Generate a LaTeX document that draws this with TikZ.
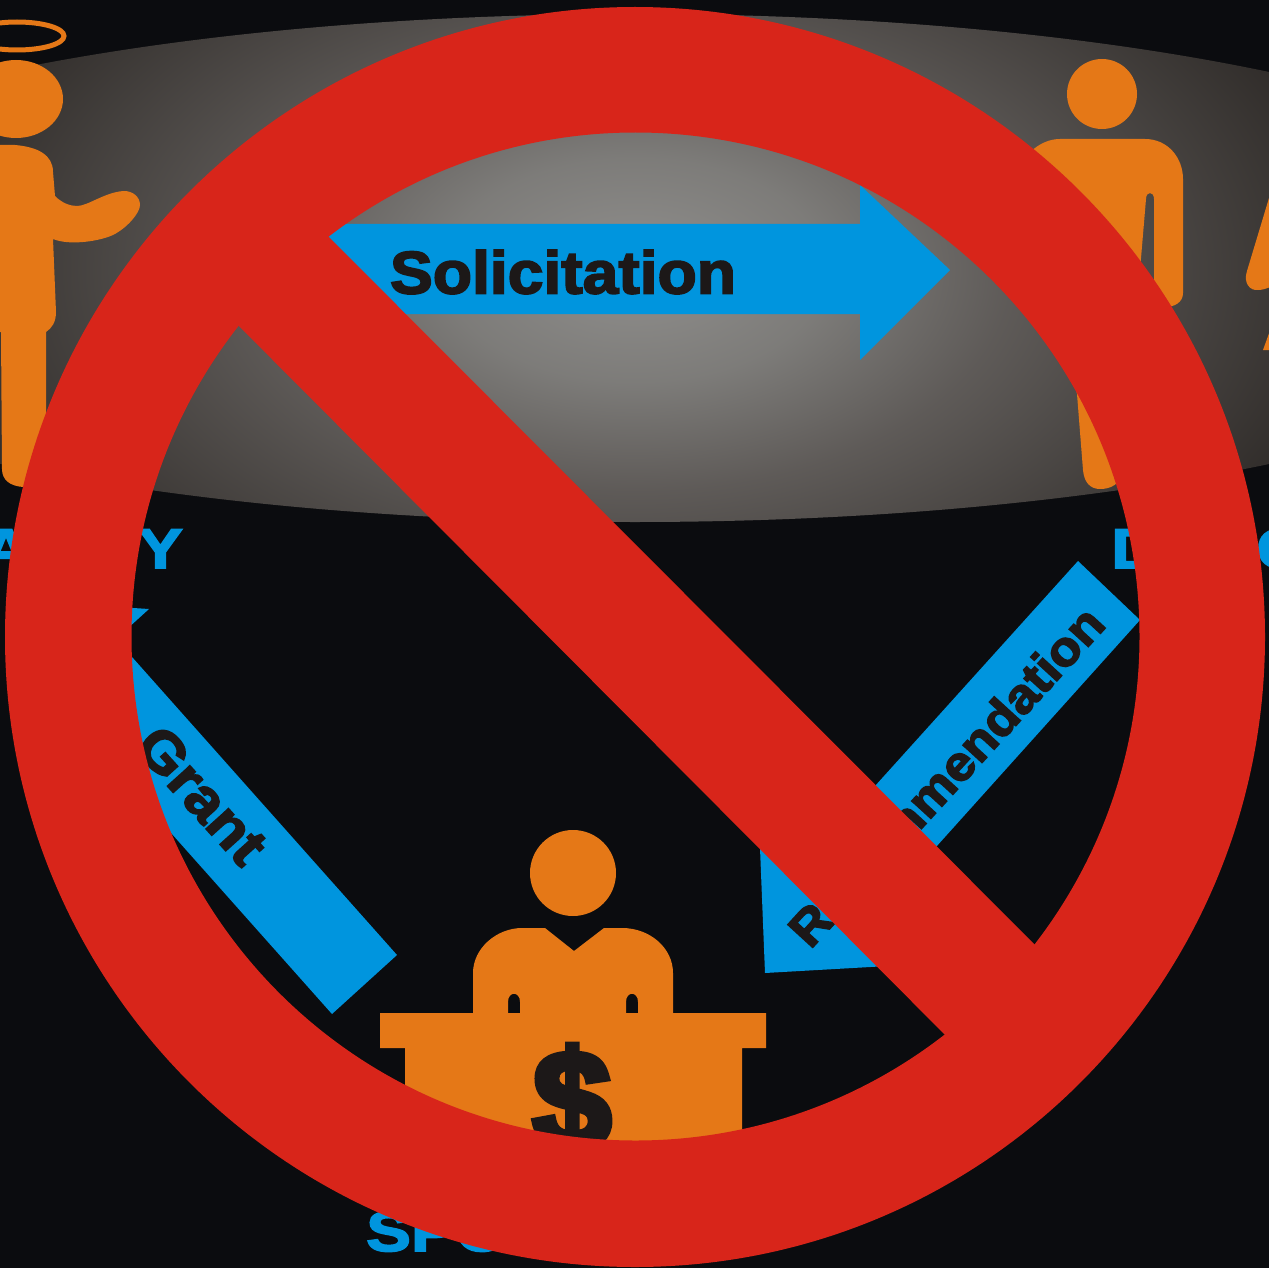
\documentclass[tikz,border=0pt]{standalone}
\usepackage{fontspec}
\newfontfamily\hv[FakeStretch=1.2,FakeBold=3]{Liberation Sans Bold}
\newfontfamily\hw[FakeStretch=1.07,FakeBold=3]{Liberation Sans Bold}
\newfontfamily\hvs[FakeBold=5]{Liberation Sans Bold}
\definecolor{bgk}{HTML}{0B0C0F}
\definecolor{org}{HTML}{E57817}
\definecolor{blu}{HTML}{0095DE}
\definecolor{rd}{HTML}{D8251A}
\definecolor{ink}{HTML}{1C1818}
\pgfdeclareradialshading{spot}{\pgfpoint{0bp}{0bp}}{%
 rgb(0bp)=(.565,.561,.553);
 rgb(7bp)=(.49,.485,.475);
 rgb(13.8bp)=(.37,.355,.345);
 rgb(28bp)=(.17,.155,.145);
 rgb(35bp)=(.13,.12,.11);
 rgb(50bp)=(.13,.12,.11)}
\tikzset{
 fig/.style={fill=org,draw=none},
 arrowshape/.style={fill=blu,draw=none},
 word/.style={text=ink,inner sep=0pt,font=\hw\fontsize{#1}{#1}\selectfont},
 lab/.style={text=blu,inner sep=0pt,font=\hv\fontsize{56}{56}\selectfont},
 ban/.style={fill=rd,draw=none}
}
\begin{document}
\begin{tikzpicture}[x=1pt,y=-1pt]
\useasboundingbox (0,0) rectangle (1269,1268);
\clip (0,0) rectangle (1269,1268);
\fill[bgk] (0,0) rectangle (1269,1268);
% spotlight
\begin{scope}
 \clip (635,268) ellipse [x radius=997,y radius=254];
 \shade[shading=spot] (-45,-130) rectangle (1315,670);
\end{scope}
% arrows
\fill[arrowshape] (300,224) -- (860,224) -- (860,185) -- (950,270) -- (860,360) -- (860,314) -- (300,314) -- cycle;
\node[word=60,anchor=center] (sol) at (563,272) {Solicitation};
\fill[arrowshape] (397,955) -- (116,639) -- (149,609) -- (23,601) -- (18,728) -- (51,698) -- (332,1014) -- cycle;
\node[word=57,rotate=-48,anchor=center] (gra) at (202,795) {Grant};
\fill[arrowshape] (1078,561) -- (792,878) -- (760,848) -- (765,973) -- (888,966) -- (856,936) -- (1140,620) -- cycle;
\node[word=49,rotate=47.5,anchor=center] (rec) at (946,776) {Recommendation};
% angel
\draw[org,line width=5pt] (17,36) ellipse [x radius=47,y radius=14];
\fill[fig] (16,99) ellipse [x radius=47,y radius=39];
\fill[fig] (-5,145) -- (15,145) .. controls (38,147) and (53,155) .. (53,172) -- (55,196)
 .. controls (62,203) and (70,206) .. (77,206) .. controls (88,206) and (105,192) .. (124,191)
 .. controls (133,191) and (140,197) .. (140,205) .. controls (140,213) and (127,228) .. (113,235)
 .. controls (100,241) and (70,246) .. (53,239) -- (56,312) .. controls (56,322) and (52,328) .. (46,332)
 -- (46,490) -- (23,487) .. controls (10,486) and (2,480) .. (2,469) -- (1,332) -- (-5,332) -- cycle;
% man
\fill[fig] (1102,94) circle [radius=35];
\fill[fig] (1030,152) .. controls (1040,143) and (1050,139) .. (1060,139) -- (1145,139)
 .. controls (1168,139) and (1183,158) .. (1183,179) -- (1183,293) .. controls (1183,302) and (1175,307) .. (1165,307)
 -- (1154,307) -- (1154,199) .. controls (1154,191) and (1146,191) .. (1146,199) -- (1140,270) -- (1125,470)
 .. controls (1120,485) and (1110,489) .. (1100,489) .. controls (1090,489) and (1084,482) .. (1083,470)
 -- (1077,394) -- (1060,300) -- cycle;
% third figure
\fill[fig] (1275,190) -- (1269,198) -- (1247,271) .. controls (1243,283) and (1250,291) .. (1258,290) .. controls (1262,290) and (1266,289) .. (1275,285) -- cycle;
\fill[fig] (1263,350) -- (1272,325) -- (1272,350) -- cycle;
% sponsor
\fill[fig] (573,873) circle [radius=43];
\fill[fig,even odd rule] (473,1020) -- (473,973) .. controls (473,948) and (497,928) .. (522,928) -- (545,928) -- (574,951) -- (604,928) -- (622,928)
 .. controls (650,928) and (673,948) .. (673,973) -- (673,1020) -- cycle
 (508,1014) -- (508,1002) .. controls (508,991) and (520,991) .. (520,1002) -- (520,1014) -- cycle
 (626,1014) -- (626,1002) .. controls (626,991) and (638,991) .. (638,1002) -- (638,1014) -- cycle;
\fill[fig] (380,1013) -- (766,1013) -- (766,1048) -- (742,1048) -- (742,1190) -- (405,1190) -- (405,1048) -- (380,1048) -- cycle;
\node[text=ink,inner sep=0pt,font=\hvs\fontsize{140}{140}\selectfont,anchor=base] (dol) at (572,1149) {\$};
% labels
\node[lab,anchor=base] (la) at (6,568) {A};
\node[lab,anchor=base east] (ly) at (183,568) {Y};
\node[lab,anchor=base west] (ld) at (1111,568) {D};
\node[lab,anchor=base west] (lc) at (1256,568) {C};
\node[lab,anchor=base west] (ls) at (366,1251) {SPO};
% ban sign
\fill[ban,even odd rule] (635,637) circle [radius=630] (635.5,636.5) circle [radius=504];
\fill[ban] (300,208) -- (1065,975) -- (975,1065) -- (208,295) -- cycle;
\end{tikzpicture}
\end{document}
